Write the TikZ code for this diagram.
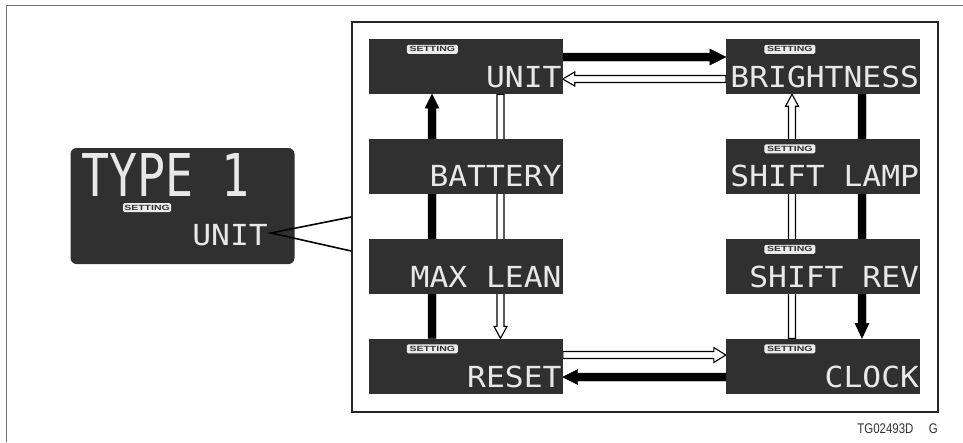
\documentclass[tikz,border=0pt]{standalone}
\usepackage{fontspec}
\setmainfont{Liberation Sans}
\newfontfamily\lcdfont[FakeStretch=1.08]{DejaVu Sans Mono}
\newfontfamily\lcdbigfont[FakeStretch=0.79]{DejaVu Sans Mono}
\newfontfamily\badgefont[FakeStretch=1.4]{Liberation Sans}
\newfontfamily\codefont[FakeStretch=0.82]{Liberation Sans}
\usetikzlibrary{calc,backgrounds}
\definecolor{lcdbg}{RGB}{48,48,48}
\definecolor{lcdfg}{RGB}{232,232,232}
% style, start, end, shaft half width, head half width, head length
\newcommand{\blockarrow}[6]{%
  \draw[#1] let \p1=#2, \p2=#3, \n1={veclen(\x2-\x1,\y2-\y1)}, \n2={atan2(\y2-\y1,\x2-\x1)} in
    [shift={(\p1)}, rotate=\n2]
    (0pt,-#4pt) -- ({\n1-#6pt},-#4pt) -- ({\n1-#6pt},-#5pt) -- ({\n1+0pt},0pt)
    -- ({\n1-#6pt},#5pt) -- ({\n1-#6pt},#4pt) -- (0pt,#4pt) -- cycle;
}
\tikzset{
  lcdbox/.style={fill=lcdbg, draw=none, minimum width=194pt, minimum height=55pt, inner sep=0pt},
  lcdtext/.style={text=lcdfg, inner sep=0pt, font=\lcdfont\fontsize{29}{29}\selectfont},
  lcdbig/.style={text=lcdfg, inner sep=0pt, font=\lcdbigfont\fontsize{59}{59}\selectfont},
  badge/.style={fill=white!92!black, rounded corners=1.5pt, inner sep=0pt, minimum width=51pt,
    minimum height=9pt, text=lcdbg, font=\badgefont\bfseries\fontsize{7.5}{7.5}\selectfont},
  solidarrow/.style={fill=black, draw=black, line width=0.4pt},
  openarrow/.style={fill=white, draw=black, line width=1.1pt, line join=miter},
  callout/.style={draw=black, line width=1.6pt},
}
\begin{document}
\begin{tikzpicture}[x=1pt, y=-1pt]
\useasboundingbox (0,0) rectangle (963,442);
\draw[black!55, line width=0.8pt] (963,5) -- (6,5) -- (6,442);

% inner frame
\node[draw=black!85, line width=1.6pt, minimum width=586pt, minimum height=390pt, inner sep=0pt] (frame) at (645,217) {};

% boxes
\node[lcdbox] (unit) at (465.5,66.5) {};
\node[lcdbox] (bright) at (823,66.5) {};
\node[lcdbox] (battery) at (465.5,166) {};
\node[lcdbox] (lamp) at (823,166) {};
\node[lcdbox] (lean) at (465.5,266.5) {};
\node[lcdbox] (rev) at (823,266.5) {};
\node[lcdbox] (reset) at (465.5,366) {};
\node[lcdbox] (clock) at (823,366) {};

% texts
\node[lcdtext, anchor=base east] (unitT) at ($(unit.south east)+(-1,-6.5)$) {UNIT};
\node[lcdtext, anchor=base east] (brightT) at ($(bright.south east)+(-1,-6.5)$) {BRIGHTNESS};
\node[lcdtext, anchor=base east] (batteryT) at ($(battery.south east)+(-1,-7.5)$) {BATTERY};
\node[lcdtext, anchor=base east] (lampT) at ($(lamp.south east)+(-1,-7.5)$) {SHIFT LAMP};
\node[lcdtext, anchor=base east] (leanT) at ($(lean.south east)+(-1,-7)$) {MAX LEAN};
\node[lcdtext, anchor=base east] (revT) at ($(rev.south east)+(-1,-7)$) {SHIFT REV};
\node[lcdtext, anchor=base east] (resetT) at ($(reset.south east)+(-1,-6.5)$) {RESET};
\node[lcdtext, anchor=base east] (clockT) at ($(clock.south east)+(-1,-6.5)$) {CLOCK};

% setting badges
\node[badge] (unitS) at ($(unit.north west)+(64,10.5)$) {SETTING};
\node[badge] (brightS) at ($(bright.north west)+(64,10.5)$) {SETTING};
\node[badge] (lampS) at ($(lamp.north west)+(64,10.5)$) {SETTING};
\node[badge] (revS) at ($(rev.north west)+(64,10.5)$) {SETTING};
\node[badge] (resetS) at ($(reset.north west)+(64,10.5)$) {SETTING};
\node[badge] (clockS) at ($(clock.north west)+(64,10.5)$) {SETTING};

% TYPE 1 display
\node[fill=lcdbg, rounded corners=6pt, minimum width=224pt, minimum height=116pt, inner sep=0pt] (typebox) at (182.5,206) {};
\node[lcdbig, anchor=base west] (typeT) at (81,196.5) {TYPE 1};
\node[badge, minimum width=48pt] (typeS) at (147,207.5) {SETTING};
\node[lcdtext, anchor=base east] (typeU) at (268,245) {UNIT};
\coordinate (apex) at (271,233);
\draw[callout] (frame.west) -- (apex) -- ($(frame.west)+(0,34)$);

% arrows (behind the boxes)
\begin{pgfonlayer}{background}
\fill[white] (0,0) rectangle (963,442);
\blockarrow{solidarrow}{($(unit.east)+(0,-9.5)$)}{($(bright.west)+(0,-9.5)$)}{4}{8}{16}
\blockarrow{openarrow}{($(bright.west)+(0,12.5)$)}{($(unit.east)+(0,12.5)$)}{3.5}{7}{12}
\blockarrow{solidarrow}{($(reset.north)+(-33.5,0)$)}{($(unit.south)+(-33.5,0)$)}{4}{7}{14}
\blockarrow{openarrow}{($(unit.south)+(35,0)$)}{($(reset.north)+(35,0)$)}{3.5}{6.5}{12}
\blockarrow{solidarrow}{($(bright.south)+(39,0)$)}{($(clock.north)+(39,0)$)}{4}{7}{15}
\blockarrow{openarrow}{($(clock.north)+(-31,0)$)}{($(bright.south)+(-31,0)$)}{3.5}{6.5}{12}
\blockarrow{openarrow}{($(reset.east)+(0,-11)$)}{($(clock.west)+(0,-11)$)}{3.5}{7.5}{12}
\blockarrow{solidarrow}{($(clock.west)+(0,11)$)}{($(reset.east)+(0,11)$)}{4}{7.5}{15}
\end{pgfonlayer}

% code label
\node[anchor=base east, inner sep=0pt, text=black!80, font=\codefont\fontsize{14}{14}\selectfont] (code) at (938,433) {TG02493D\hspace{1.1em}G};
\end{tikzpicture}
\end{document}
